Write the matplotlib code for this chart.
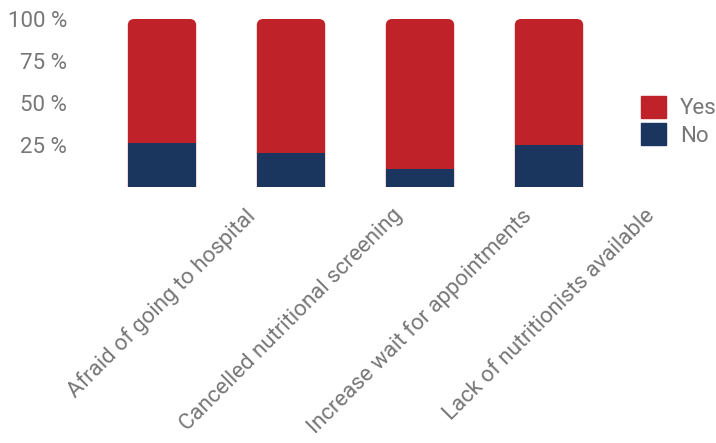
import matplotlib
matplotlib.use("Agg")
import matplotlib.pyplot as plt
from matplotlib.path import Path
from matplotlib.patches import PathPatch, Patch

# reasons and share of answers (%)
reasons = [
    "Afraid of going to hospital",
    "Cancelled nutritional screening",
    "Increase wait for appointments",
    "Lack of nutritionists available",
]
no_pct = [26, 20, 11, 25]
yes_pct = [74, 80, 89, 75]
y_ticks = [25, 50, 75, 100]
y_tick_labels = ["25 %", "50 %", "75 %", "100 %"]

RED = "#BF2229"
NAVY = "#1B365E"
GREY = "#777777"

plt.rcParams["font.family"] = ["Roboto", "DejaVu Sans"]
FS = 16

fig = plt.figure(figsize=(7.16, 4.43), dpi=100)
ax = fig.add_axes([97.5 / 716, 1 - 187 / 443, 516 / 716, 168 / 443])

x = list(range(len(reasons)))
width = 0.53

ax.bar(x, no_pct, width, color=NAVY, zorder=4)
yes_bars = ax.bar(x, yes_pct, width, bottom=no_pct, color=RED, zorder=3)


def rounded_top(x0, y0, w, h, rx, ry, color):
    verts = [
        (x0, y0), (x0, y0 + h - ry), (x0, y0 + h), (x0 + rx, y0 + h),
        (x0 + w - rx, y0 + h), (x0 + w, y0 + h), (x0 + w, y0 + h - ry),
        (x0 + w, y0), (x0, y0),
    ]
    codes = [Path.MOVETO, Path.LINETO, Path.CURVE3, Path.CURVE3,
             Path.LINETO, Path.CURVE3, Path.CURVE3, Path.LINETO, Path.CLOSEPOLY]
    return PathPatch(Path(verts, codes), facecolor=color, edgecolor="none", zorder=3)


# swap the plain red rectangles for full-height ones with rounded top corners;
# the navy part sits on top, so no seam shows where the two meet
for rect in yes_bars:
    rect.set_visible(False)
    top = rect.get_y() + rect.get_height()
    ax.add_patch(rounded_top(rect.get_x(), 0, rect.get_width(), top, 0.05, 3.8, RED))

ax.set_xlim(-0.5, 3.5)
ax.set_ylim(0, 100)
for s in ax.spines.values():
    s.set_visible(False)

ax.set_yticks(y_ticks)
ax.set_yticklabels(y_tick_labels, fontsize=FS, color=GREY)
ax.set_xticks(x)
ax.set_xticklabels(reasons, rotation=45, ha="center", va="top",
                   fontsize=FS, color=GREY)
ax.tick_params(axis="y", length=0, pad=22)
ax.tick_params(axis="x", length=0, pad=13)

handles = [Patch(color=RED), Patch(color=NAVY)]
leg = fig.legend(handles, ["Yes", "No"], loc="upper left",
                 bbox_to_anchor=(641 / 716, 1 - 96 / 443), frameon=False,
                 borderpad=0, borderaxespad=0, handlelength=1.13, handleheight=1.13,
                 handletextpad=0.63, labelspacing=0.18, prop={"size": FS})
for t in leg.get_texts():
    t.set_color(GREY)

fig.savefig("out.png", dpi=100)
